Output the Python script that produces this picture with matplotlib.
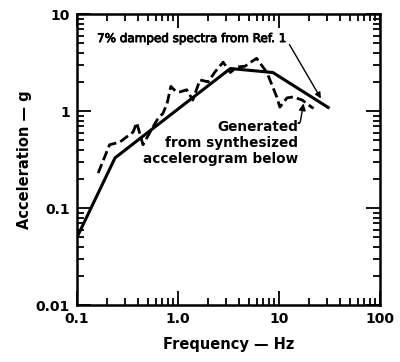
import matplotlib
matplotlib.use('Agg')
import matplotlib.pyplot as plt
import matplotlib.patheffects as pe
from matplotlib.ticker import LogLocator, NullFormatter, FixedLocator, FixedFormatter

plt.rcParams['font.family'] = ['DejaVu Sans']

# 7% damped design spectrum (Ref. 1)
ref_freq = [0.1, 0.238, 3.3, 8.7, 31.6]
ref_acc = [0.05, 0.33, 2.75, 2.5, 1.07]

# spectrum generated from synthesized accelerogram
gen_freq = [0.162, 0.21, 0.266, 0.36, 0.39, 0.45, 0.53, 0.62, 0.71, 0.78, 0.85,
            0.95, 1.05, 1.22, 1.4, 1.65, 1.99, 2.3, 2.8, 3.3, 3.8, 4.6, 5.5,
            6.0, 7.6, 9.5, 10.2, 12.0, 13.8, 17.0, 21.0, 22.0]
gen_acc = [0.23, 0.45, 0.48, 0.61, 0.76, 0.45, 0.61, 0.81, 0.95, 1.2, 1.8,
           1.6, 1.58, 1.66, 1.3, 2.1, 2.0, 2.5, 3.2, 2.5, 2.85, 2.9, 3.3,
           3.5, 2.5, 1.4, 1.1, 1.37, 1.4, 1.3, 1.1, 1.07]

x_ticks = [0.1, 1.0, 10, 100]
x_labels = ['0.1', '1.0', '10', '100']
y_ticks = [0.01, 0.1, 1, 10]
y_labels = ['0.01', '0.1', '1', '10']

fig = plt.figure(figsize=(4.0, 3.62), dpi=100)
ax = fig.add_axes([0.1925, 0.157, 0.7575, 0.804])

ax.plot(ref_freq, ref_acc, color='black', lw=2.2, solid_capstyle='butt')
ax.plot(gen_freq, gen_acc, color='black', lw=2.0, ls=(0, (3.5, 1.5)))

ax.set_xscale('log')
ax.set_yscale('log')
ax.set_xlim(0.1, 100)
ax.set_ylim(0.01, 10)

ax.xaxis.set_major_locator(FixedLocator(x_ticks))
ax.xaxis.set_major_formatter(FixedFormatter(x_labels))
ax.yaxis.set_major_locator(FixedLocator(y_ticks))
ax.yaxis.set_major_formatter(FixedFormatter(y_labels))
ax.xaxis.set_minor_locator(LogLocator(base=10, subs=range(2, 10)))
ax.yaxis.set_minor_locator(LogLocator(base=10, subs=range(2, 10)))
ax.xaxis.set_minor_formatter(NullFormatter())
ax.yaxis.set_minor_formatter(NullFormatter())

ax.tick_params(which='both', direction='in', top=True, right=True, width=1.3)
ax.tick_params(which='major', length=10, labelsize=10, pad=5)
ax.tick_params(which='minor', length=5)
for lab in ax.get_xticklabels() + ax.get_yticklabels():
    lab.set_fontweight('bold')
for sp in ax.spines.values():
    sp.set_linewidth(1.8)

ax.set_xlabel('Frequency — Hz', fontsize=10.5, fontweight='bold', labelpad=8)
ax.set_ylabel('Acceleration — g', fontsize=10.5, fontweight='bold', labelpad=3)

# slightly heavier than regular weight, as in the original lettering
ax.annotate('7% damped spectra from Ref. 1', xy=(26, 1.35), xytext=(0.158, 5.6),
            fontsize=8.6, ha='left', va='center',
            path_effects=[pe.withStroke(linewidth=0.6, foreground='black')],
            arrowprops=dict(arrowstyle='-|>', color='black', lw=1.0,
                            shrinkA=1, shrinkB=0,
                            relpos=(1.0, 0.5)))
ax.text(15.4, 0.47, 'Generated\nfrom synthesized\naccelerogram below',
        fontsize=9.8, fontweight='bold', ha='right', va='center',
        multialignment='right', linespacing=1.2)
ax.annotate('', xy=(17.5, 1.2), xytext=(15.8, 0.75),
            arrowprops=dict(arrowstyle='-|>', color='black', lw=1.0,
                            shrinkA=0, shrinkB=0,
                            connectionstyle='angle,angleA=0,angleB=80,rad=2'))

fig.savefig('out.png', dpi=100, facecolor='white')
